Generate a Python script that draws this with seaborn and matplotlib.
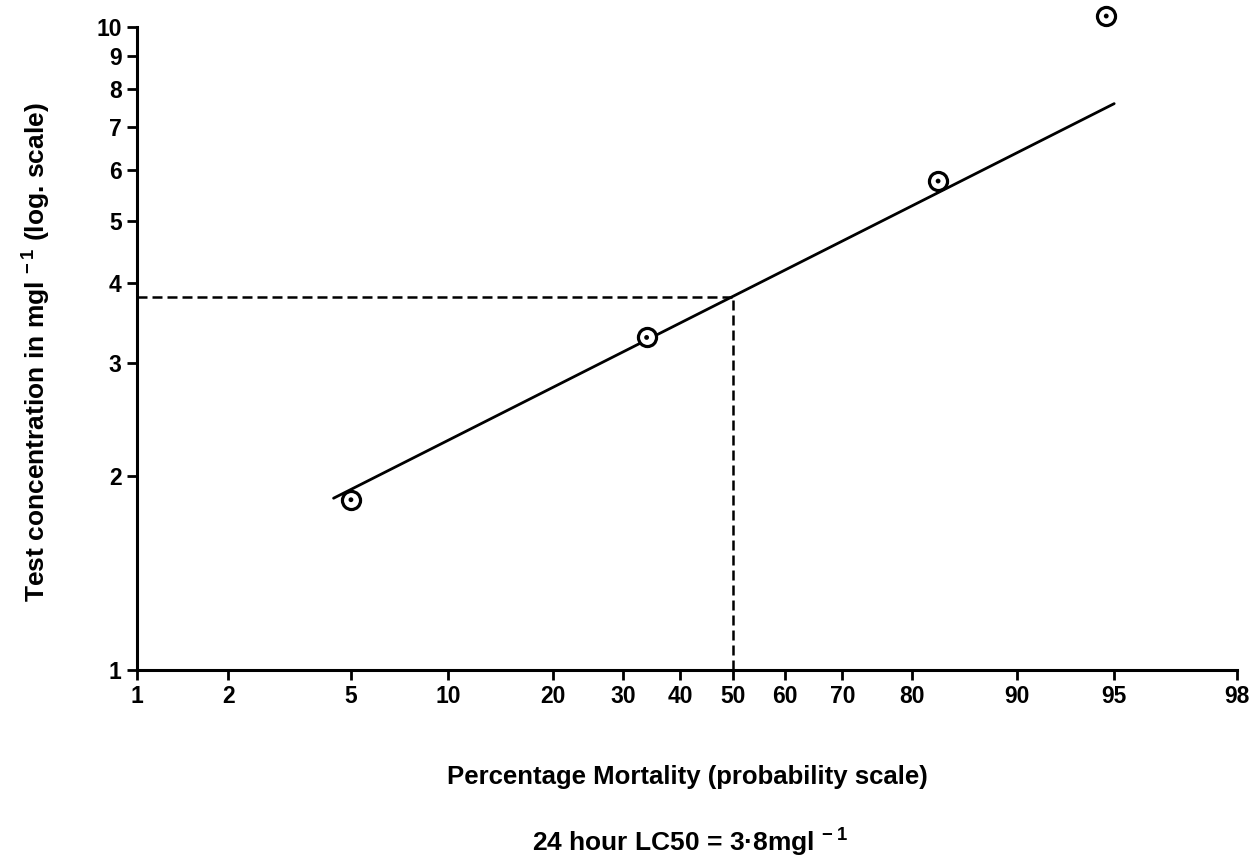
import numpy as np
import matplotlib
matplotlib.use("Agg")
import matplotlib.pyplot as plt
from matplotlib.ticker import NullLocator
import seaborn as sns

# observed mortality (%) against test concentration (mg/l)
mortality = [5, 34, 83, 94.7]
concentration = [1.84, 3.29, 5.76, 10.4]

# fitted line as drawn on the chart
fit_mortality = [4.4, 95]
fit_concentration = [1.85, 7.6]

# 24 hour LC50
lc50_mortality = 50
lc50 = 3.8

x_ticks = [1, 2, 5, 10, 20, 30, 40, 50, 60, 70, 80, 90, 95, 98]
y_ticks = [1, 2, 3, 4, 5, 6, 7, 8, 9, 10]


def to_prob(p):
    p = np.asarray(p, dtype=float)
    with np.errstate(divide="ignore", invalid="ignore"):
        return np.log(p / (100.0 - p))


def from_prob(z):
    z = np.asarray(z, dtype=float)
    return 100.0 / (1.0 + np.exp(-z))


sns.set_theme(style="ticks")
plt.rcParams["font.family"] = ["Liberation Sans", "DejaVu Sans"]
plt.rcParams["font.weight"] = "bold"
plt.rcParams["text.color"] = "black"
plt.rcParams["axes.labelcolor"] = "black"
plt.rcParams["mathtext.fontset"] = "custom"
plt.rcParams["mathtext.rm"] = "Liberation Sans:bold"
plt.rcParams["mathtext.default"] = "rm"

fig = plt.figure(figsize=(12.58, 8.65), dpi=100)
ax = fig.add_axes([0.1089, 0.2254, 0.8744, 0.7434])
ax.set_xscale("function", functions=(to_prob, from_prob))
ax.set_yscale("log")

# fitted line and LC50 read-off
sns.lineplot(x=fit_mortality, y=fit_concentration, ax=ax, color="black",
             linewidth=2, sort=False, estimator=None)
ax.plot([x_ticks[0], lc50_mortality], [lc50, lc50], color="black",
        linewidth=1.8, linestyle=(0, (4, 2)))
ax.plot([lc50_mortality, lc50_mortality], [y_ticks[0], lc50], color="black",
        linewidth=1.8, linestyle=(0, (4, 2)))

# observed points: open circle with a dot
sns.scatterplot(x=mortality, y=concentration, ax=ax, s=170, color="white",
                edgecolor="black", linewidth=2.3, clip_on=False, zorder=5)
sns.scatterplot(x=mortality, y=concentration, ax=ax, s=12, color="black",
                edgecolor="none", clip_on=False, zorder=6)

ax.set_xlim(x_ticks[0], x_ticks[-1])
ax.set_ylim(y_ticks[0], y_ticks[-1])
ax.set_xticks(x_ticks, labels=[str(t) for t in x_ticks])
ax.set_yticks(y_ticks, labels=[str(t) for t in y_ticks])
ax.xaxis.set_minor_locator(NullLocator())
ax.yaxis.set_minor_locator(NullLocator())
ax.tick_params(direction="out", length=7, width=2, labelsize=16.5,
               pad=4, colors="black")
sns.despine(ax=ax)
for side in ["left", "bottom"]:
    ax.spines[side].set_linewidth(2.2)
    ax.spines[side].set_color("black")

ax.set_xlabel("Percentage Mortality (probability scale)", fontsize=18.5,
              fontweight="bold")
ax.xaxis.set_label_coords(0.5, -0.147)
ax.set_ylabel(r"Test concentration in mgl$^{\,-1}$ (log. scale)", fontsize=19,
              fontweight="bold")
ax.yaxis.set_label_coords(-0.076, 0.495)

fig.text(0.5485, 0.015, r"24 hour LC50 = 3·8mgl$^{\,-1}$", ha="center",
         va="baseline", fontsize=19, fontweight="bold")

fig.savefig("out.png", dpi=100, facecolor="white")
